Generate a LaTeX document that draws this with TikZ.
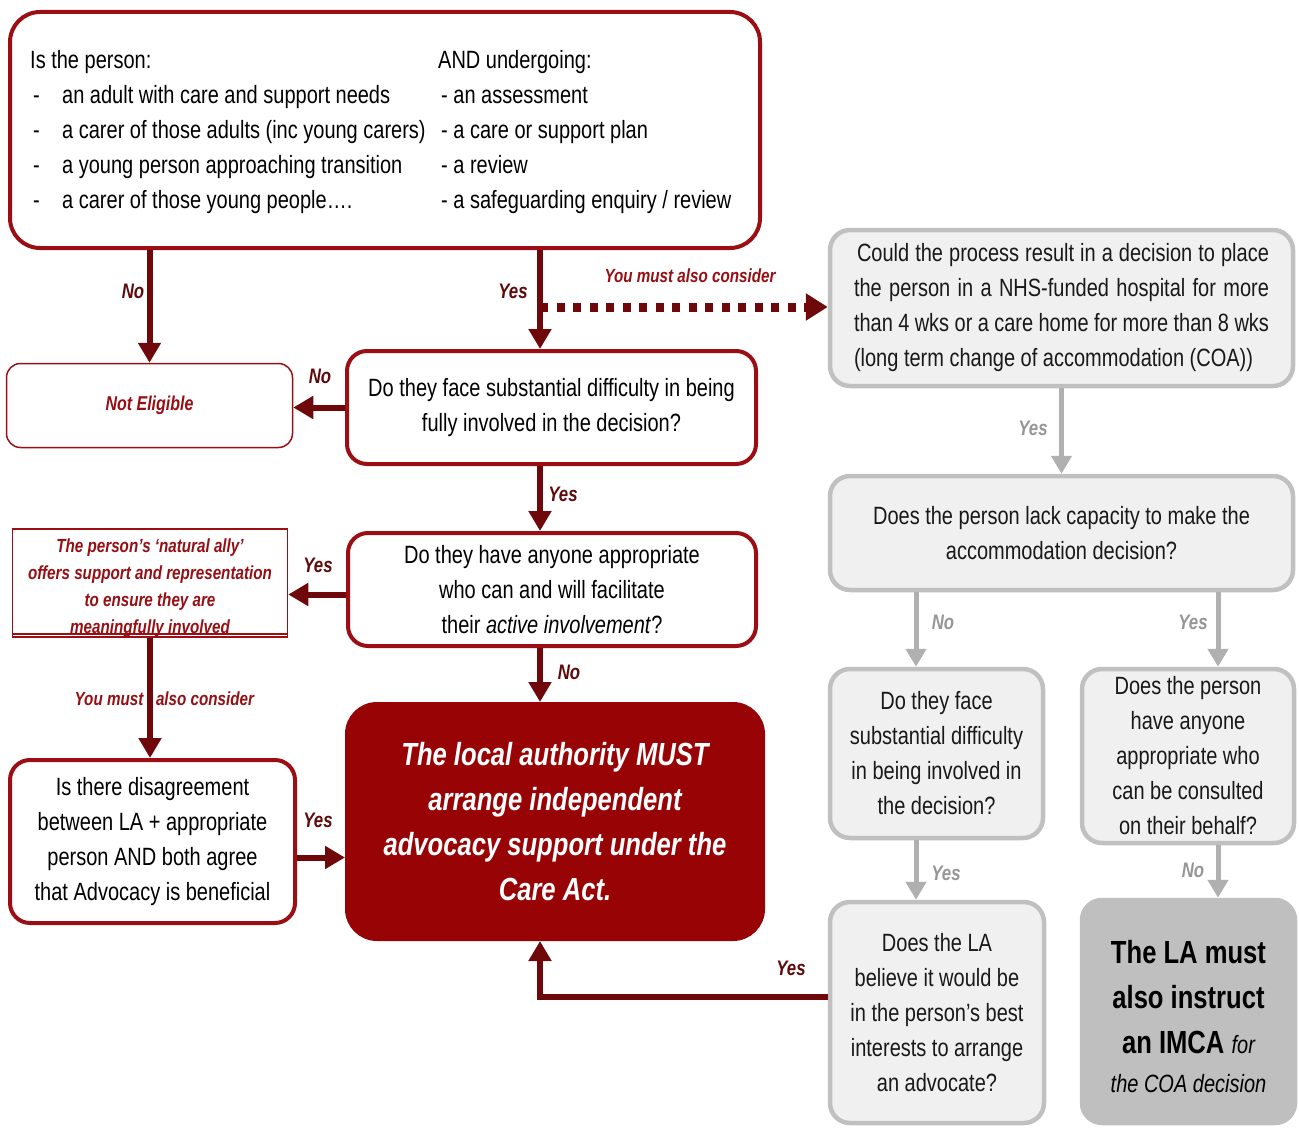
\documentclass[tikz,border=0pt]{standalone}
\usepackage{fontspec}
\setmainfont{Liberation Sans}[FakeStretch=0.8]
\usetikzlibrary{arrows.meta}
\definecolor{boxred}{RGB}{155,15,20}
\definecolor{mainred}{RGB}{152,4,6}
\definecolor{arrowred}{RGB}{110,8,10}
\definecolor{labred}{RGB}{95,10,12}
\definecolor{textred}{RGB}{150,15,20}
\definecolor{greyline}{RGB}{192,192,192}
\definecolor{greyfill}{RGB}{240,240,240}
\definecolor{greydark}{RGB}{191,191,191}
\definecolor{greyarrow}{RGB}{176,176,176}
\definecolor{greylab}{RGB}{150,150,150}
\newcommand{\bodyfont}{\fontsize{25}{35}\selectfont}

\begin{document}
\begin{tikzpicture}[x=1pt,y=-1pt,
  redbox/.style={draw=boxred,line width=4pt,rounded corners=20pt,fill=white,align=center,inner sep=0pt,font=\bodyfont},
  thinbox/.style={draw=boxred,line width=1.5pt,fill=white,align=center,inner sep=0pt,text=textred,font=\fontsize{19}{27}\selectfont\bfseries\itshape},
  greybox/.style={draw=greyline,line width=4.5pt,rounded corners=20pt,fill=greyfill,align=center,inner sep=0pt,text=black!90,font=\bodyfont},
  redarrow/.style={draw=arrowred,line width=6pt,-{Triangle[width=22pt,length=20pt]}},
  dotarrow/.style={draw=arrowred,line width=9pt,dash pattern=on 8pt off 8.5pt,-{Triangle[width=26pt,length=22pt]}},
  greyarrow/.style={draw=greyarrow,line width=5pt,-{Triangle[width=20pt,length=18pt]}},
  lab/.style={text=labred,font=\fontsize{21}{21}\selectfont\bfseries\itshape},
  redlab/.style={text=textred,font=\fontsize{19}{19}\selectfont\bfseries\itshape},
  glab/.style={text=greylab,font=\fontsize{21}{21}\selectfont\bfseries\itshape}]
\useasboundingbox (0,0) rectangle (1299,1129);
\coordinate (mid) at (540,0);
\coordinate (gl) at (916,0);
\coordinate (gr) at (1218,0);
\coordinate (split) at (540,307);

\node[redbox,rounded corners=30pt,minimum width=750pt,minimum height=236pt] (top) at (385,130) {};
\node[anchor=west,align=left,inner sep=0pt,font=\bodyfont] (topl) at (30,132)
  {Is the person:\\
   \hspace*{3pt}\makebox[29pt][l]{-}an adult with care and support needs\\
   \hspace*{3pt}\makebox[29pt][l]{-}a carer of those adults (inc young carers)\\
   \hspace*{3pt}\makebox[29pt][l]{-}a young person approaching transition\\
   \hspace*{3pt}\makebox[29pt][l]{-}a carer of those young people\dots.};
\node[anchor=west,align=left,inner sep=0pt,font=\bodyfont] (topr) at (438,132)
  {AND undergoing:\\
   \hspace*{3pt}- an assessment\\
   \hspace*{3pt}- a care or support plan\\
   \hspace*{3pt}- a review\\
   \hspace*{3pt}- a safeguarding enquiry / review};

\node[thinbox,rounded corners=14pt,minimum width=286pt,minimum height=84pt,font=\fontsize{20}{20}\selectfont\bfseries\itshape] (noteli) at (149.5,405.5) {Not Eligible};
\node[redbox,minimum width=409pt,minimum height=113pt] (q1) at (551.5,407.5)
  {Do they face substantial difficulty in being\\ fully involved in the decision?};
\node[redbox,minimum width=408pt,minimum height=113pt] (q2) at (552,589.5)
  {Do they have anyone appropriate\\ who can and will facilitate\\ their \textit{active involvement}?};
\node[thinbox,minimum width=275pt,minimum height=108pt] (ally) at (150,583) {};
\node[align=center,inner sep=0pt,text=textred,font=\fontsize{19}{27}\selectfont\bfseries\itshape] (allyt) at (150,588)
  {The person’s ‘natural ally’\\ offers support and representation\\ to ensure they are\\ meaningfully involved};
\draw[boxred,line width=1.5pt] ([yshift=4pt]ally.south west) -- ([yshift=4pt]ally.south east);
\node[redbox,minimum width=285pt,minimum height=163pt] (q3) at (152.5,841.5)
  {Is there disagreement\\ between LA + appropriate\\ person AND both agree\\ that Advocacy is beneficial};
\node[redbox,rounded corners=30pt,draw=mainred,fill=mainred,minimum width=416pt,minimum height=235pt,text=white,font=\fontsize{32}{45}\selectfont\bfseries\itshape] (main) at (555,821.5)
  {The local authority MUST\\ arrange independent\\ advocacy support under the\\ Care Act.};

\node[greybox,minimum width=463pt,minimum height=156pt] (c1) at (1061.5,308)
  {\parbox{415pt}{\bodyfont\hspace*{3pt}\makebox[412pt][s]{Could the process result in a decision to place}\\
   \makebox[415pt][s]{the person in a NHS-funded hospital for more}\\
   \makebox[415pt][s]{than 4 wks or a care home for more than 8 wks}\\
   (long term change of accommodation (COA))}};
\node[greybox,minimum width=463pt,minimum height=114pt] (c2) at (1061.5,533)
  {Does the person lack capacity to make the\\ accommodation decision?};
\node[greybox,minimum width=213pt,minimum height=169pt] (c3) at (936.5,753.5)
  {Do they face\\ substantial difficulty\\ in being involved in\\ the decision?};
\node[greybox,minimum width=212pt,minimum height=174pt] (c4) at (1188,756)
  {Does the person\\ have anyone\\ appropriate who\\ can be consulted\\ on their behalf?};
\node[greybox,minimum width=214pt,minimum height=221pt] (c5) at (937,1012.5)
  {Does the LA\\ believe it would be\\ in the person’s best\\ interests to arrange\\ an advocate?};
\node[greybox,draw=greydark,fill=greydark,minimum width=213pt,minimum height=223pt] (c6) at (1188.5,1011.5) {};
\node[align=center,inner sep=0pt,text=black,font=\fontsize{32}{45}\selectfont\bfseries] (c6t) at (1188.5,1017)
  {The LA must\\ also instruct\\ an IMCA {\fontsize{25}{25}\selectfont\mdseries\itshape for}\\[-6pt]
   {\fontsize{25}{25}\selectfont\mdseries\itshape the COA decision}};

\draw[redarrow] (top.south -| noteli.north) -- (noteli.north);
\draw[redarrow] (top.south -| mid) -- (q1.north -| mid);
\draw[dotarrow] (split) -- (split -| c1.west);
\draw[redarrow] (q1.west) -- (q1.west -| noteli.east);
\draw[redarrow] (q1.south -| mid) -- (q2.north -| mid);
\draw[redarrow] (q2.west) ++(0,5) coordinate (q2o) -- (q2o -| ally.east);
\draw[redarrow] (ally.south) -- (ally.south |- q3.north);
\draw[redarrow] (q3.east) ++(0,16) coordinate (q3o) -- (q3o -| main.west);
\draw[redarrow] (q2.south -| mid) -- (main.north -| mid);
\draw[redarrow] (c5.west) ++(0,-15.5) coordinate (c5o) -| (main.south -| mid);
\draw[greyarrow] (c1.south) -- (c2.north);
\draw[greyarrow] (c2.south -| gl) -- (c3.north -| gl);
\draw[greyarrow] (c2.south -| gr) -- (c4.north -| gr);
\draw[greyarrow] (c3.south -| gl) -- (c5.north -| gl);
\draw[greyarrow] (c4.south -| gr) -- (c6.north -| gr);

\node[lab] (l1) at (133,291) {No};
\node[lab] (l2) at (513,291) {Yes};
\node[redlab] (l3) at (690,276) {You must also consider};
\node[lab] (l4) at (320,376) {No};
\node[lab] (l5) at (563,494) {Yes};
\node[lab] (l6) at (318,565) {Yes};
\node[lab] (l7) at (569,672) {No};
\node[redlab] (l8) at (109,699) {You must};
\node[redlab] (l9) at (205,699) {also consider};
\node[lab] (l10) at (318,820) {Yes};
\node[lab] (l11) at (791,968) {Yes};
\node[glab] (g1) at (1033,428) {Yes};
\node[glab] (g2) at (943,622) {No};
\node[glab] (g3) at (1193,622) {Yes};
\node[glab] (g4) at (946,873) {Yes};
\node[glab] (g5) at (1193,870) {No};
\end{tikzpicture}
\end{document}
